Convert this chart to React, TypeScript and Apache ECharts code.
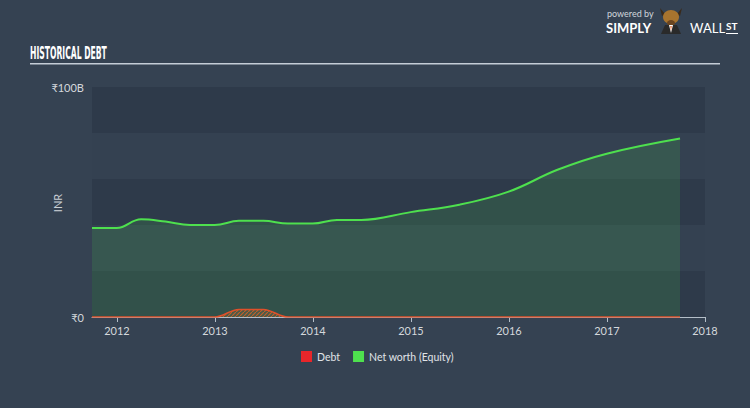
import React, { useEffect, useRef } from "react";
import * as echarts from "echarts";

const netWorthDates = [
  "2011-09-30", "2011-12-31", "2012-03-31", "2012-06-30", "2012-09-30", "2012-12-31",
  "2013-03-31", "2013-06-30", "2013-09-30", "2013-12-31", "2014-03-31", "2014-06-30",
  "2014-12-31", "2015-06-30", "2015-12-31", "2016-06-30", "2016-12-31", "2017-09-30",
];
const netWorthValues = [
  38.7, 38.7, 42.5, 41.5, 40.0, 40.0,
  41.8, 41.8, 40.6, 40.6, 42.2, 42.2,
  45.6, 48.8, 54.5, 64.0, 71.0, 77.6,
];
const debtDates = [
  "2011-09-30", "2012-12-31", "2013-03-31", "2013-06-30", "2013-09-30", "2017-09-30",
];
const debtValues = [0, 0, 3.3, 3.3, 0, 0];
const yearTicks = [2012, 2013, 2014, 2015, 2016, 2017, 2018];
const yTickLabels: Record<number, string> = { 0: "₹0", 100: "₹100B" };

function toYear(d: string): number {
  const [y, m, day] = d.split("-").map(Number);
  const start = Date.UTC(y, 0, 1);
  const end = Date.UTC(y + 1, 0, 1);
  return y + (Date.UTC(y, m - 1, day) - start) / (end - start);
}

function makeHatch(): HTMLCanvasElement {
  const c = document.createElement("canvas");
  c.width = 4;
  c.height = 4;
  const ctx = c.getContext("2d")!;
  ctx.fillStyle = "#4a5a48";
  ctx.fillRect(0, 0, 4, 4);
  ctx.strokeStyle = "#c0602c";
  ctx.lineWidth = 1.2;
  ctx.beginPath();
  ctx.moveTo(0, 4);
  ctx.lineTo(4, 0);
  ctx.stroke();
  return c;
}

export default function App() {
  const ref = useRef<HTMLDivElement>(null);
  useEffect(() => {
    if (!ref.current) return;
    const chart = echarts.init(ref.current, null, { renderer: "svg" });
    const font = "Lato, 'Open Sans', sans-serif";
    chart.setOption({
      animation: false,
      backgroundColor: "#354252",
      textStyle: { fontFamily: font },
      grid: { left: 92, right: 45, top: 87, bottom: 91 },
      graphic: [
        {
          type: "text",
          x: 30,
          y: 45,
          scaleX: 0.5,
          style: {
            text: "HISTORICAL DEBT",
            fill: "#ffffff",
            font: "bold 17px 'DejaVu Sans Condensed', 'Liberation Sans Narrow', sans-serif",
          },
        },
        {
          type: "rect",
          shape: { x: 30, y: 63, width: 690, height: 1.5 },
          style: { fill: "#c4ccd6" },
        },
        {
          type: "text",
          x: 57,
          y: 203,
          rotation: Math.PI / 2,
          style: {
            text: "INR",
            fill: "#c8ced4",
            font: "11px " + font,
            align: "center",
            verticalAlign: "middle",
          },
        },
        {
          type: "text",
          left: 607,
          top: 9,
          style: { text: "powered by", fill: "#d0d6dc", font: "9px " + font },
        },
        {
          type: "text",
          left: 606,
          top: 21,
          style: { text: "SIMPLY", fill: "#ffffff", font: "bold 13px " + font },
        },
        {
          type: "group",
          left: 660,
          top: 8,
          children: [
            { type: "polygon", shape: { points: [[3, 2], [8, 8], [5, 10]] }, style: { fill: "#3a2a1a" } },
            { type: "polygon", shape: { points: [[25, 2], [20, 8], [23, 10]] }, style: { fill: "#3a2a1a" } },
            { type: "ellipse", shape: { cx: 14, cy: 11, rx: 8, ry: 7 }, style: { fill: "#a8742e" } },
            { type: "ellipse", shape: { cx: 14, cy: 17, rx: 4, ry: 3 }, style: { fill: "#6b4520" } },
            { type: "polygon", shape: { points: [[4, 28], [8, 19], [20, 19], [24, 28]] }, style: { fill: "#2a2a2a" } },
            { type: "polygon", shape: { points: [[12, 19], [16, 19], [14, 27]] }, style: { fill: "#ffffff" } },
            { type: "polygon", shape: { points: [[13.3, 20], [14.7, 20], [14, 25]] }, style: { fill: "#e05a1a" } },
          ],
        },
        {
          type: "text",
          left: 690,
          top: 21,
          style: { text: "WALL", fill: "#ffffff", font: "13px " + font },
        },
        {
          type: "text",
          left: 726,
          top: 21,
          style: { text: "ST", fill: "#ffffff", font: "bold 10px " + font },
        },
        {
          type: "rect",
          shape: { x: 726, y: 33, width: 12, height: 1 },
          style: { fill: "#ffffff" },
        },
      ],
      legend: {
        bottom: 41,
        left: 296,
        itemWidth: 11,
        itemHeight: 11,
        itemGap: 13,
        icon: "rect",
        textStyle: { color: "#e0e4e8", fontSize: 10.5, fontFamily: font },
        data: [
          { name: "Debt", itemStyle: { color: "#e8262a" } },
          { name: "Net worth (Equity)", itemStyle: { color: "#4ee04e" } },
        ],
      },
      xAxis: {
        type: "value",
        min: toYear(netWorthDates[0]),
        max: 2018,
        splitLine: { show: false },
        axisLine: { show: true, lineStyle: { color: "#b4bec8", width: 1 } },
        axisTick: {
          show: true,
          length: 5,
          customValues: yearTicks,
          lineStyle: { color: "#b4bec8" },
        },
        axisLabel: {
          customValues: yearTicks,
          color: "#d4d8dc",
          fontSize: 11,
          margin: 8,
          formatter: (v: number) => String(Math.round(v)),
        },
      },
      yAxis: {
        type: "value",
        min: 0,
        max: 100,
        interval: 20,
        axisLine: { show: false },
        axisTick: { show: false },
        splitLine: { show: false },
        splitArea: {
          show: true,
          areaStyle: { color: ["#2e3a4a", "#344151"] },
        },
        axisLabel: {
          color: "#d4d8dc",
          fontSize: 11,
          margin: 8,
          formatter: (v: number) => yTickLabels[v] ?? "",
        },
      },
      series: [
        {
          name: "Net worth (Equity)",
          type: "line",
          data: netWorthDates.map((d, i) => [toYear(d), netWorthValues[i]]),
          smooth: 0.4,
          showSymbol: false,
          lineStyle: { color: "#4ee04e", width: 2 },
          itemStyle: { color: "#4ee04e" },
          areaStyle: { color: "rgba(76,224,76,0.2)" },
          z: 2,
        },
        {
          name: "Debt",
          type: "line",
          data: debtDates.map((d, i) => [toYear(d), debtValues[i]]),
          smooth: 0.35,
          smoothMonotone: "x",
          showSymbol: false,
          lineStyle: { color: "#e0502a", width: 1.5 },
          itemStyle: { color: "#e8262a" },
          areaStyle: { color: { image: makeHatch(), repeat: "repeat" }, opacity: 1 },
          z: 3,
        },
      ],
    });
    return () => chart.dispose();
  }, []);
  return (
    <div
      ref={ref}
      style={{ position: "absolute", left: 0, top: 0, width: 750, height: 408 }}
    />
  );
}
